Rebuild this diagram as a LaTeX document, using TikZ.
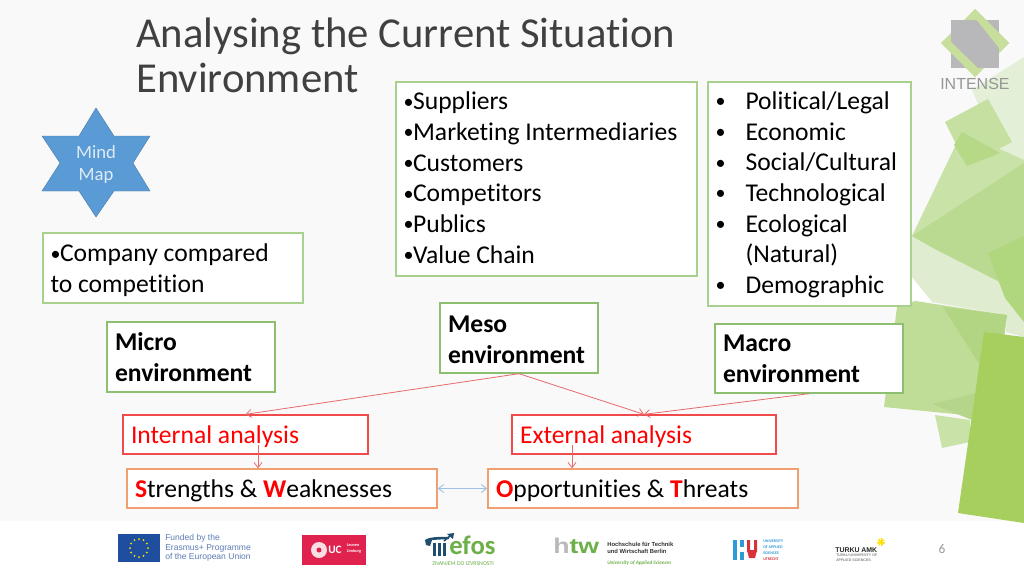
\documentclass[tikz,border=0pt]{standalone}
\usepackage{fontspec}
\setmainfont{Carlito}[Ligatures=NoCommon]
\newfontfamily\arialf{Liberation Sans}
\usetikzlibrary{arrows.meta,calc}
\definecolor{bgc}{HTML}{F9F9F9}
\definecolor{boxg}{HTML}{A9D18E}
\definecolor{boxd}{HTML}{8CBF6F}
\definecolor{boxr}{HTML}{F04A4A}
\definecolor{boxo}{HTML}{F0A070}
\definecolor{conr}{HTML}{E86A6A}
\definecolor{conb}{HTML}{9DC3E6}
\definecolor{starb}{HTML}{5B9BD5}
\definecolor{titc}{HTML}{404040}
\definecolor{logog}{HTML}{6DB04A}
\definecolor{eub}{HTML}{1F4E9E}
\definecolor{eut}{HTML}{5B7CB5}
\definecolor{ucr}{HTML}{E0224E}
\definecolor{efb}{HTML}{1F4E6E}
\definecolor{hub}{HTML}{2E9AD6}
\definecolor{hur}{HTML}{D8333A}
\tikzset{
  x=0.75pt,y=-0.75pt,
  body/.style={font=\fontsize{19.2}{23}\selectfont,align=flush left,inner xsep=5.6pt,inner ysep=0pt,fill=white},
  gbox/.style={body,draw=boxg,line width=1.9pt},
  tbox/.style={body,draw=boxd,line width=1pt},
  rbox/.style={body,draw=boxr,line width=1pt,text=red},
  obox/.style={body,draw=boxo,line width=1pt},
  redarrow/.style={draw=conr,line width=0.6pt,-{Straight Barb[length=4pt,width=6pt]}},
  bluearrow/.style={draw=conb,line width=0.7pt,{Straight Barb[length=4pt,width=6pt]}-{Straight Barb[length=4pt,width=6pt]}},
  tiny/.style={inner sep=0pt,anchor=base west,align=left},
}
\newcommand{\hl}[1]{\textbf{\textcolor{red}{#1}}}
\newcommand{\smb}{\raisebox{1.4pt}{\fontsize{15}{15}\selectfont •}}
\newcommand{\bl}{\makebox[22.5pt][l]{\smb}}
\newcommand{\bs}{\makebox[7.2pt][l]{\smb}}
\newcommand{\hgt}[1]{\rule{0pt}{#1}}
\newcommand{\dpt}[1]{\rule[-#1]{0pt}{1pt}}
\begin{document}
\begin{tikzpicture}
\useasboundingbox (0,0) rectangle (1024,576);
\fill[bgc] (0,0) rectangle (1024,576);
% background decoration
\fill[fill=white] (0,521) rectangle (1024,576);
\fill[fill=white] (912,270) -- (932,302) -- (912,300) -- cycle;
\fill[fill={rgb,255:red,227;green,239;blue,214}] (972,90) -- (1024,57) -- (1024,165) -- (1000,153) -- (985,120) -- cycle;
\fill[fill={rgb,255:red,224;green,236;blue,207}] (905,240) -- (1024,200) -- (1024,337) -- (1006,332) -- (1007,315) -- (932,302) -- (912,277) -- cycle;
\fill[fill={rgb,255:red,201;green,226;blue,168}] (962,132) -- (1024,160) -- (1024,236) -- (1000,282) -- (937,250) -- (912,236) -- cycle;
\fill[fill={rgb,255:red,185;green,218;blue,144}] (912,236) -- (1024,163) -- (1024,295) -- (1000,282) -- (937,250) -- cycle;
\fill[fill={rgb,255:red,197;green,224;blue,160}] (945,122) -- (988,99) -- (1012,142) -- (967,166) -- cycle;
\fill[fill={rgb,255:red,182;green,217;blue,136}] (962,132) -- (1000,153) -- (967,166) -- (954,145) -- cycle;
\fill[fill={rgb,255:red,176;green,214;blue,126}] (988,253) -- (1024,236) -- (1024,322) -- (1005,298) -- cycle;
\fill[fill={rgb,255:red,200;green,226;blue,168}] (935,415) -- (970,420) -- (970,442) -- (942,448) -- cycle;
\fill[fill={rgb,255:red,191;green,221;blue,150}] (915,301) -- (1007,315) -- (995,418) -- (884,407) -- (897,307) -- cycle;
\fill[fill={rgb,255:red,178;green,213;blue,131}] (943,307) -- (1007,315) -- (1003,337) -- (980,365) -- cycle;
\fill[fill={rgb,255:red,181;green,214;blue,138}] (932,404) -- (977,393) -- (972,420) -- cycle;
\fill[fill={rgb,255:red,166;green,207;blue,94}] (984,332) -- (1024,337) -- (1024,523) -- (958,513) -- cycle;
% INTENSE logo
\fill[fill={rgb,255:red,200;green,222;blue,156}] (975,9) -- (1009,43) -- (975,77) -- (941,43) -- cycle;
\fill[fill={rgb,255:red,184;green,184;blue,186}] (951,20) rectangle (999,68);
\fill[fill={rgb,255:red,200;green,222;blue,156}] (971,13) -- (975,9) -- (1009,43) -- (1000,52) -- (999,48) -- cycle;
\fill[fill={rgb,255:red,200;green,222;blue,156}] (941,43) -- (947,38) -- (981,71) -- (975,77) -- cycle;
\node[tiny,text={rgb,255:red,150;green,150;blue,150},font=\arialf\fontsize{12}{12}\selectfont] (intense) at (940,89) {INTENSE};
% title
\node[inner sep=0pt,anchor=north west,align=left,text=titc,font=\fontsize{32}{33.6}\selectfont] (title) at (136,18) {Analysing the Current Situation\\Environment};
% star
\fill[fill=starb,draw=starb!80!black,line width=0.3pt] (96,108) -- (114,136) -- (150,136) -- (133,163) -- (150,191) -- (114,191) -- (96,217) -- (79,191) -- (42,191) -- (60,163) -- (42,136) -- (79,136) -- cycle;
\node[inner sep=0pt,align=center,text={rgb,255:red,222;green,235;blue,247},font=\fontsize{14}{17.2}\selectfont] (mind) at (96,164.5) {Mind\\Map};
% boxes
\node[gbox,minimum width=301*.75pt,minimum height=194*.75pt,text width=286*.75pt] (sup) at (546.5,179) {\bs Suppliers\\\bs Marketing Intermediaries\\\bs Customers\\\bs Competitors\\\bs Publics\\\bs Value Chain\dpt{2pt}};
\node[gbox,minimum width=203*.75pt,minimum height=224*.75pt,text width=188*.75pt] (pol) at (809.5,194) {\hgt{14.6pt}\bl Political/Legal\\\bl Economic\\\bl Social/Cultural\\\bl Technological\\\bl Ecological\\\makebox[22.5pt]{}(Natural)\\\bl Demographic};
\node[gbox,minimum width=260*.75pt,minimum height=70*.75pt,text width=245*.75pt] (comp) at (173,268) {\hgt{17pt}\bs Company compared\\to competition};
\node[tbox,minimum width=168*.75pt,minimum height=70*.75pt,text width=152*.75pt] (micro) at (191,357) {\textbf{Micro}\\\textbf{environment}};
\node[tbox,minimum width=158*.75pt,minimum height=70*.75pt,text width=142*.75pt] (meso) at (519,338) {\hgt{14.8pt}\textbf{Meso}\\\textbf{environment}};
\node[tbox,minimum width=188*.75pt,minimum height=69*.75pt,text width=172*.75pt] (macro) at (809,358.5) {\textbf{Macro}\\\textbf{environment}};
\node[rbox,minimum width=245*.75pt,minimum height=39*.75pt,text width=229*.75pt] (int) at (245.5,434.5) {\hgt{17pt}Internal analysis};
\node[rbox,minimum width=264*.75pt,minimum height=39*.75pt,text width=248*.75pt] (ext) at (644,434.5) {\hgt{17pt}External analysis};
\node[obox,minimum width=310*.75pt,minimum height=39*.75pt,text width=294*.75pt] (str) at (282,488.5) {\hgt{17pt}\hl{S}trengths \& \hl{W}eaknesses};
\node[obox,minimum width=310*.75pt,minimum height=39*.75pt,text width=294*.75pt] (opp) at (643,488.5) {\hgt{17pt}\hl{O}pportunities \& \hl{T}hreats};
% connectors
\coordinate (ia) at (258,445);
\coordinate (ea) at (572,445);
\draw[redarrow] (meso.south) -- (int.north);
\draw[redarrow] (meso.south) -- (ext.north);
\draw[redarrow] (macro.south) -- (ext.north);
\draw[redarrow] (ia) -- (ia |- str.north);
\draw[redarrow] (ea) -- (ea |- opp.north);
\draw[bluearrow] (str.east) -- (opp.west);
% footer: EU
\fill[eub] (118,534) rectangle (160,562);
\foreach \a in {0,30,...,330}{\fill[yellow!85!orange] ($(139,548)+(\a:9)$) circle (1);}
\node[tiny,text=eut,font=\arialf\fontsize{6.4}{7.1}\selectfont,anchor=north west] (eu) at (165,534.5) {Funded by the\\Erasmus+ Programme\\of the European Union};
% UC
\fill[ucr] (302,535) rectangle (366,565);
\fill[white!85!ucr] (319,550) circle (8);
\fill[ucr] (319,550) circle (2.5);
\node[tiny,text=white,font=\fontsize{8.5}{8.5}\selectfont\bfseries] (uc) at (328,553) {UC};
\node[tiny,text=white,font=\fontsize{3.2}{4.2}\selectfont\bfseries,anchor=north west] (ucl) at (346.5,543.5) {Leuven\\Limburg};
% efos
\fill[efb] (425,540) .. controls (430,536) and (445,537) .. (449,537) -- (449,539) -- (432,540) -- (430,546) -- (426,545) -- cycle;
\fill[efb] (433,543) rectangle (436,556);
\fill[efb] (438,543) rectangle (441,556);
\fill[efb] (443,543) rectangle (446,556);
\draw[efb,line width=1.2pt] (444,541) -- (451,535);
\fill[efb] (447,534) -- (454,533) -- (453,539) -- cycle;
\node[tiny,text=logog,font=\fontsize{20}{20}\selectfont\bfseries] (efos) at (449,554.5) {efos};
\node[tiny,text=logog,font=\fontsize{4.4}{4.4}\selectfont] (efz) at (432,565) {ZNANJEM DO IZVRSNOSTI};
% htw
\node[tiny,font=\arialf\fontsize{16}{16}\selectfont\bfseries] (htw) at (553,553) {\scalebox{1.25}[1]{\textcolor{gray!55}{h}\textcolor{logog}{tw}}};
\node[tiny,font=\arialf\fontsize{4.4}{5}\selectfont\bfseries,anchor=north west,text=black!80] (htwa) at (607,542) {Hochschule für Technik\\und Wirtschaft Berlin};
\node[tiny,text=logog,font=\fontsize{3.9}{4}\selectfont\itshape\bfseries] (htwb) at (607,564.5) {University of Applied Sciences};
% HU
\fill[hub] (733,540) rectangle (737,560);
\fill[hub] (740,540) rectangle (744,547);
\fill[hub] (740,552) rectangle (744,560);
\fill[hur] (747,540) rectangle (750,552) (754,540) rectangle (757,552);
\fill[hur] (747,550) -- (757,550) -- (755,558) -- (749,558) -- cycle;
\node[tiny,text=hub,font=\fontsize{3}{4.4}\selectfont\bfseries,anchor=north west] (hut) at (763,540) {UNIVERSITY\\OF APPLIED\\SCIENCES\\\textcolor{hur}{UTRECHT}};
% Turku
\node[tiny,font=\arialf\fontsize{5.2}{5.2}\selectfont\bfseries,text=black!85] (tu) at (835,552) {TURKU AMK};
\node[tiny,font=\arialf\fontsize{2.7}{3.8}\selectfont,anchor=north west,text=black!70] (tub) at (836,553.5) {TURKU UNIVERSITY OF\\APPLIED SCIENCES};
\foreach \a in {0,30,...,150}{\draw[yellow!85!orange,line width=0.7pt] ($(881,542)+(\a:-4)$) -- ($(881,542)+(\a:4)$);}
% page number
\node[inner sep=0pt,text=gray!80,font=\fontsize{10}{10}\selectfont] (pn) at (942,549) {6};
\end{tikzpicture}
\end{document}
